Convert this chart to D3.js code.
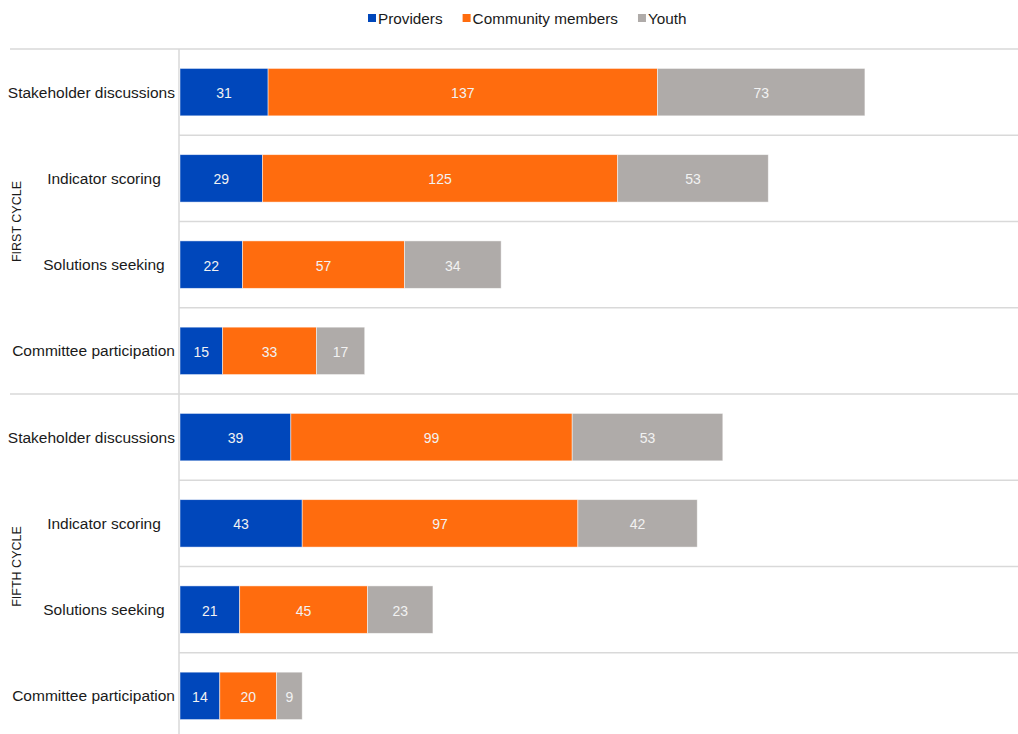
<!DOCTYPE html>
<html>
<head>
<meta charset="utf-8">
<script src="https://cdn.jsdelivr.net/npm/d3@7"></script>
<style>
  body { margin: 0; background: #fff; }
  svg { display: block; font-family: Arial, "Liberation Sans", sans-serif; }
</style>
</head>
<body>
<div id="chart"></div>
<script>
// data
const groups = ["FIRST CYCLE", "FIFTH CYCLE"];
const activities = ["Stakeholder discussions", "Indicator scoring", "Solutions seeking", "Committee participation"];
const seriesNames = ["Providers", "Community members", "Youth"];
const seriesColors = ["#0047BB", "#FF6C0E", "#AFABA9"];
const providers = [31, 29, 22, 15, 39, 43, 21, 14];
const community = [137, 125, 57, 33, 99, 97, 45, 20];
const youth = [73, 53, 34, 17, 53, 42, 23, 9];

function drawChart() {
    const div_id = "#chart";
    const width = 1018, height = 734;

    let svg = d3.select(div_id)
        .append("svg")
        .attr("width", width)
        .attr("height", height);

    // rows = group x activity
    let rows = [];
    groups.forEach(function (g, gi) {
        activities.forEach(function (a, ai) {
            let i = gi * activities.length + ai;
            rows.push({ key: i, group: g, name: a, vals: [providers[i], community[i], youth[i]] });
        });
    });

    const top = 49, bottom = 739;
    const axisX = 179;

    let y = d3.scaleBand()
        .domain(rows.map(d => d.key))
        .range([top, bottom])
        .paddingInner(0.45)
        .paddingOuter(0.225);

    let x = d3.scaleLinear()
        .domain([0, 300])
        .range([180, 180 + 300 * 2.842]);

    const step = y.step();

    // grid lines
    let grid = svg.append("g");
    rows.forEach(function (d, i) {
        let yy = top + i * step;
        let startX = (i % activities.length === 0) ? 10 : axisX;
        grid.append("line")
            .attr("x1", startX).attr("x2", width)
            .attr("y1", yy).attr("y2", yy)
            .attr("stroke", "#d9d9d9")
            .attr("stroke-width", 1.5);
    });
    grid.append("line")
        .attr("x1", axisX).attr("x2", axisX)
        .attr("y1", top).attr("y2", height)
        .attr("stroke", "#d9d9d9")
        .attr("stroke-width", 1.5);

    // stacked bars
    let stack = d3.stack()
        .keys([0, 1, 2])
        .value((d, k) => d.vals[k]);
    let series = stack(rows);

    let layers = svg.append("g")
        .selectAll("g")
        .data(series)
        .enter()
        .append("g")
        .attr("fill", d => seriesColors[d.key]);

    layers.selectAll("rect")
        .data(d => d)
        .enter()
        .append("rect")
        .attr("x", d => x(d[0]))
        .attr("y", d => y(d.data.key))
        .attr("width", d => x(d[1]) - x(d[0]))
        .attr("height", y.bandwidth())
        .attr("stroke", "#ffffff")
        .attr("stroke-opacity", 0.6)
        .attr("stroke-width", 0.8);

    layers.selectAll("text")
        .data(d => d)
        .enter()
        .append("text")
        .attr("x", d => (x(d[0]) + x(d[1])) / 2)
        .attr("y", d => y(d.data.key) + y.bandwidth() / 2 + 1)
        .attr("dy", "0.35em")
        .attr("text-anchor", "middle")
        .attr("fill", "#f2f2f2")
        .style("font-size", "14px")
        .text(d => d[1] - d[0]);

    // category labels
    let labels = svg.append("g")
        .selectAll("text")
        .data(rows)
        .enter()
        .append("text")
        .attr("y", d => y(d.key) + y.bandwidth() / 2)
        .attr("dy", "0.35em")
        .attr("text-anchor", "middle")
        .attr("fill", "#1a1a1a")
        .style("font-size", "15.5px")
        .text(d => d.name);
    labels.attr("x", function () {
        let w = this.getComputedTextLength();
        return Math.min(104, 175 - w / 2);
    });

    // group labels
    groups.forEach(function (g, gi) {
        let cy = top + (gi * activities.length + activities.length / 2) * step;
        svg.append("text")
            .attr("transform", "translate(21," + cy + ") rotate(-90)")
            .attr("text-anchor", "middle")
            .attr("fill", "#1a1a1a")
            .style("font-size", "12.5px")
            .text(g);
    });

    // legend
    let legend = svg.append("g");
    let lx = 368;
    seriesNames.forEach(function (name, i) {
        legend.append("rect")
            .attr("x", lx).attr("y", 14)
            .attr("width", 8).attr("height", 8)
            .attr("fill", seriesColors[i]);
        let t = legend.append("text")
            .attr("x", lx + 10).attr("y", 23.5)
            .attr("fill", "#1a1a1a")
            .style("font-size", "15.3px")
            .text(name);
        lx += 10 + t.node().getComputedTextLength() + 20;
    });
}
drawChart();
</script>
</body>
</html>
